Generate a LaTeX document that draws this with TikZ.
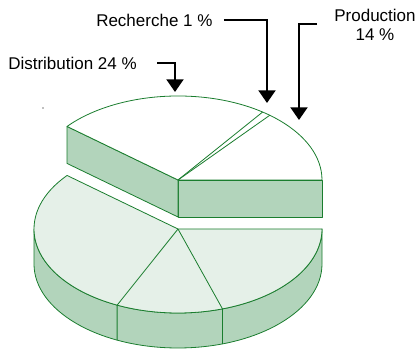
\documentclass[tikz,border=0pt]{standalone}
\usepackage{fontspec}
\setmainfont{Liberation Sans}
\usetikzlibrary{arrows.meta}
\definecolor{piegreen}{RGB}{26,125,46}
\definecolor{sidegreen}{RGB}{178,212,187}
\definecolor{topgreen}{RGB}{229,240,232}

\begin{document}
\begin{tikzpicture}[x=0.75pt,y=0.75pt,
   pieline/.style={draw=piegreen,line width=0.6pt,line join=round},
   rim/.style={x radius=144,y radius=84},
   pointer/.style={line width=1.5pt,-{Triangle[length=9.5pt,width=12.75pt]}},
   lbl/.style={font=\fontsize{12.75}{14.25}\selectfont,inner sep=0pt}]
   \useasboundingbox (0,0) rectangle (419,349);
   % lower part of the pie
   \coordinate (lc) at (178,120);
   \filldraw[pieline,fill=sidegreen] (34,120) -- (34,85)
      arc[rim,start angle=180,end angle=360] -- (322,120)
      arc[rim,start angle=0,end angle=-180] -- cycle;
   \filldraw[pieline,fill=topgreen] (lc) -- ++(140.4:144 and 84)
      arc[rim,start angle=140.4,end angle=360] -- cycle;
   \draw[pieline] (lc) -- ++(245:144 and 84) -- ++(0,-35);
   \draw[pieline] (lc) -- ++(288:144 and 84) -- ++(0,-35);
   % pulled out part
   \coordinate (uc) at (178,169);
   \filldraw[pieline,fill=sidegreen] (uc) -- (322,169) -- (322,132) -- (178,132) -- cycle;
   \filldraw[pieline,fill=sidegreen] (uc) -- ++(140.4:144 and 84) -- ++(0,-37) -- (178,132) -- cycle;
   \filldraw[pieline,fill=white] (uc) -- (322,169)
      arc[rim,start angle=0,end angle=140.4] -- cycle;
   \draw[pieline] (uc) -- ++(50.4:144 and 84);
   \draw[pieline] (uc) -- ++(54:144 and 84);
   \fill[gray] (43,241) circle[radius=0.8];
   % labels
   \node[lbl,anchor=west] (dist) at (8,286) {Distribution 24 \%};
   \node[lbl,anchor=west] (rech) at (96,329) {Recherche 1 \%};
   \node[lbl,align=center] (prod) at (375,324) {Production\\14 \%};
   \coordinate (distTip) at (175,257);
   \coordinate (rechTip) at (267,246);
   \coordinate (prodTip) at (299,229);
   \draw[pointer] ([xshift=15pt]dist.east) -| (distTip);
   \draw[pointer] ([xshift=8.25pt]rech.east) -| (rechTip);
   \draw[pointer] ([xshift=-12.75pt,yshift=1pt]prod.west) -| (prodTip);
\end{tikzpicture}
\end{document}
